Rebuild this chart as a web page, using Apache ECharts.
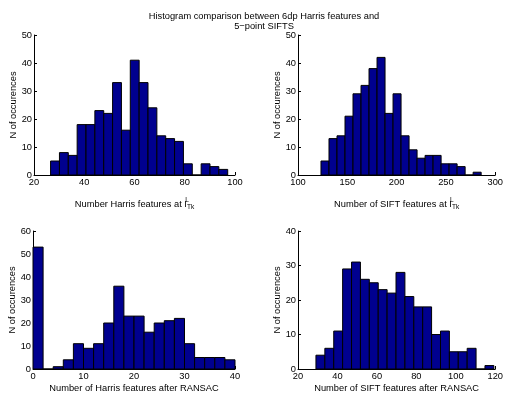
<!DOCTYPE html>
<html>
<head>
<meta charset="utf-8">
<script src="https://cdn.jsdelivr.net/npm/echarts@6/dist/echarts.min.js"></script>
<style>html,body{margin:0;padding:0;background:#fff}#c{width:506px;height:397px}</style>
</head>
<body>
<div id="c"></div>
<script>
// Histogram counts (20 bins each)
const harrisCounts = [5, 8, 7, 18, 18, 23, 22, 33, 16, 41, 33, 24, 14, 13, 12, 4, 0, 4, 3, 2];
const siftCounts = [5, 13, 14, 21, 29, 32, 38, 42, 22, 29, 14, 9, 6, 7, 7, 4, 4, 3, 0, 1];
const harrisRansacCounts = [53, 0, 1, 4, 11, 9, 11, 20, 36, 23, 23, 16, 20, 21, 22, 11, 5, 5, 5, 4];
const siftRansacCounts = [4, 6, 11, 29, 31, 26, 25, 23, 22, 28, 21, 18, 18, 10, 11, 5, 5, 6, 0, 1];
// Bin specs: [first edge, bin width]
const harrisBins = [26.6, 3.525];
const siftBins = [123.3, 8.12];
const harrisRansacBins = [0, 2];
const siftRansacBins = [29.1, 4.51];
// Axis ranges / ticks
const xRanges = [[20, 100, 20], [100, 300, 50], [0, 40, 10], [20, 120, 20]];
const yRanges = [[0, 50, 10], [0, 50, 10], [0, 60, 10], [0, 40, 10]];
const titleLines = ['Histogram comparison between 6dp Harris features and', '5\u2212point SIFTS'];
const yName = 'N of occurences';

const FONT = 'Liberation Sans, Arial, Helvetica, sans-serif';
const FS = 9.3;
const chart = echarts.init(document.getElementById('c'));

function toItems(bins, counts) {
  return counts.map((c, i) => [bins[0] + i * bins[1], bins[0] + (i + 1) * bins[1], c]);
}
const datasets = [
  toItems(harrisBins, harrisCounts),
  toItems(siftBins, siftCounts),
  toItems(harrisRansacBins, harrisRansacCounts),
  toItems(siftRansacBins, siftRansacCounts)
];

const grids = [
  {left: 34, top: 35, width: 201, height: 140},
  {left: 298, top: 35, width: 200, height: 140},
  {left: 33, top: 231, width: 202, height: 138},
  {left: 298, top: 231, width: 201, height: 138}
];

const richName = {
  t: {fontSize: FS, fontFamily: FONT, color: '#000', lineHeight: 14},
  sup: {fontSize: 6.5, fontFamily: FONT, color: '#000', verticalAlign: 'top', align: 'left', width: 0.01, lineHeight: 8},
  sub: {fontSize: 6.5, fontFamily: FONT, color: '#000', verticalAlign: 'bottom', align: 'left', lineHeight: 8}
};
const xNames = [
  {text: '{t|Number Harris features at I}{sup|L}{sub|Tk}', gap: 22},
  {text: '{t|Number of SIFT features at I}{sup|L}{sub|Tk}', gap: 22},
  {text: 'Number of Harris features after RANSAC', gap: 15},
  {text: 'Number of SIFT features after RANSAC', gap: 15}
];

const axisCommon = {
  axisLine: {show: true, lineStyle: {color: '#000', width: 1}},
  axisTick: {show: true, inside: true, length: 3, lineStyle: {color: '#000'}},
  splitLine: {show: false},
  axisLabel: {color: '#000', fontSize: FS, fontFamily: FONT},
  nameTextStyle: {color: '#000', fontSize: FS, fontFamily: FONT}
};

const xAxis = xRanges.map((r, i) => Object.assign({}, axisCommon, {
  type: 'value', gridIndex: i, min: r[0], max: r[1], interval: r[2],
  axisLabel: Object.assign({}, axisCommon.axisLabel, {margin: 3}),
  name: xNames[i].text, nameLocation: 'middle', nameGap: xNames[i].gap,
  nameTextStyle: Object.assign({}, axisCommon.nameTextStyle, {rich: richName})
}));
const yAxis = yRanges.map((r, i) => Object.assign({}, axisCommon, {
  type: 'value', gridIndex: i, min: r[0], max: r[1], interval: r[2],
  axisLabel: Object.assign({}, axisCommon.axisLabel, {margin: 2}),
  name: yName, nameLocation: 'middle', nameGap: 14, nameRotate: 90
}));

const series = datasets.map((d, i) => ({
  type: 'custom', xAxisIndex: i, yAxisIndex: i, data: d,
  encode: {x: [0, 1], y: 2},
  renderItem: function (params, api) {
    const p0 = api.coord([api.value(0), 0]);
    const p1 = api.coord([api.value(1), api.value(2)]);
    return {
      type: 'rect',
      shape: {x: p0[0], y: p1[1], width: p1[0] - p0[0], height: p0[1] - p1[1]},
      style: {fill: '#00008F', stroke: '#000', lineWidth: 1}
    };
  }
}));

chart.setOption({
  animation: false,
  backgroundColor: '#fff',
  grid: grids,
  xAxis: xAxis,
  yAxis: yAxis,
  series: series,
  graphic: [{
    type: 'text', x: 264, y: 11,
    style: {text: titleLines.join('\n'), font: FS + 'px ' + FONT, fill: '#000', align: 'center', verticalAlign: 'top', lineHeight: 10.5}
  }]
});
</script>
</body>
</html>
